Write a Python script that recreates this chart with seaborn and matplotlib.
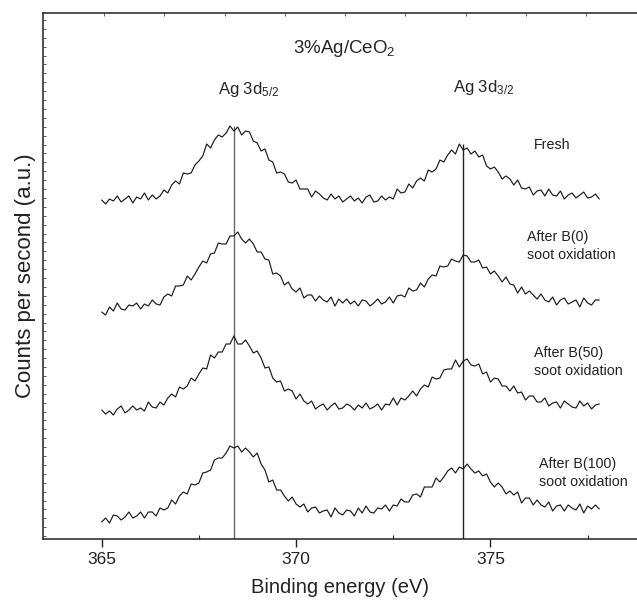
import numpy as np
import pandas as pd
import matplotlib
matplotlib.use("Agg")
import matplotlib.pyplot as plt
import seaborn as sns

# ---------------- data (counts, a.u., already vertically offset) ----------------
E_START, E_STEP, N_PTS = 365.0, 0.1, 129
energy = np.round(E_START + E_STEP * np.arange(N_PTS), 1)

samples = ["Fresh", "After B(0)\nsoot oxidation",
           "After B(50)\nsoot oxidation", "After B(100)\nsoot oxidation"]

fresh = [339, 335, 340, 338, 343, 337, 340, 343, 336, 342, 340, 346, 339, 344, 340, 343,
         349, 346, 354, 358, 355, 366, 365, 366, 374, 378, 383, 395, 391, 399, 404, 402,
         406, 413, 408, 412, 404, 408, 407, 398, 396, 388, 390, 379, 377, 366, 367, 365,
         357, 356, 359, 350, 350, 350, 342, 348, 345, 341, 339, 345, 340, 343, 337, 340,
         343, 338, 341, 336, 342, 344, 337, 338, 343, 339, 342, 340, 350, 346, 347, 355,
         351, 358, 361, 358, 369, 367, 370, 379, 377, 384, 389, 385, 395, 389, 391, 385,
         388, 382, 384, 373, 370, 372, 367, 360, 363, 360, 354, 359, 351, 350, 352, 344,
         348, 349, 343, 350, 344, 343, 348, 340, 344, 346, 341, 344, 347, 341, 342, 345,
         340]

b0 = [227, 224, 232, 228, 236, 230, 229, 234, 233, 236, 230, 235, 233, 239, 235, 234,
      242, 245, 243, 253, 253, 254, 263, 259, 265, 272, 278, 276, 285, 286, 296, 295,
      295, 303, 303, 307, 300, 296, 300, 295, 287, 287, 280, 279, 265, 266, 263, 254,
      257, 250, 247, 251, 241, 244, 244, 238, 243, 239, 237, 242, 233, 240, 236, 240,
      235, 238, 233, 239, 238, 233, 236, 240, 235, 237, 242, 236, 243, 244, 242, 251,
      248, 249, 256, 252, 260, 264, 263, 273, 272, 273, 280, 278, 277, 284, 283, 277,
      277, 279, 271, 272, 265, 268, 263, 257, 262, 255, 254, 246, 252, 245, 248, 244,
      240, 245, 239, 237, 242, 234, 239, 241, 235, 237, 239, 232, 241, 236, 234, 239,
      239]

b50 = [129, 125, 128, 124, 130, 133, 126, 129, 133, 129, 131, 128, 137, 132, 131, 137,
       134, 141, 145, 142, 152, 150, 153, 161, 158, 165, 171, 170, 184, 181, 187, 187,
       195, 195, 203, 195, 195, 199, 193, 186, 188, 181, 171, 172, 161, 157, 158, 148,
       150, 148, 140, 145, 138, 135, 138, 130, 133, 135, 129, 133, 136, 130, 131, 135,
       133, 129, 134, 131, 136, 130, 132, 135, 129, 135, 134, 141, 134, 141, 139, 143,
       148, 143, 150, 154, 152, 162, 160, 161, 169, 170, 170, 179, 172, 178, 180, 174,
       173, 175, 165, 167, 157, 161, 160, 153, 153, 148, 153, 146, 147, 139, 143, 143,
       137, 137, 141, 133, 136, 137, 131, 138, 135, 132, 131, 138, 133, 136, 130, 134,
       135]

b100 = [17, 21, 16, 24, 23, 19, 22, 27, 21, 23, 27, 21, 27, 27, 23, 31,
        29, 31, 39, 35, 43, 47, 45, 55, 54, 56, 66, 67, 69, 79, 81, 81,
        86, 93, 91, 93, 87, 91, 87, 82, 86, 75, 69, 57, 59, 49, 49, 43,
        38, 42, 35, 32, 35, 27, 31, 32, 26, 28, 29, 22, 31, 26, 24, 29,
        28, 23, 31, 26, 33, 27, 26, 31, 30, 34, 28, 34, 33, 40, 37, 37,
        44, 45, 42, 52, 52, 52, 61, 57, 62, 68, 71, 66, 72, 70, 75, 70,
        66, 68, 63, 65, 57, 52, 56, 52, 45, 48, 44, 47, 36, 41, 41, 34,
        39, 34, 32, 37, 28, 33, 34, 28, 34, 31, 29, 35, 26, 33, 30, 34,
        30]

series = [fresh, b0, b50, b100]
peak_labels = ["Ag 3d$_{5/2}$", "Ag 3d$_{3/2}$"]
peak_energy = [368.4, 374.3]
title_text = "3%Ag/CeO$_2$"

df = pd.concat(
    [pd.DataFrame({"energy": energy, "counts": vals, "sample": name})
     for name, vals in zip(samples, series)],
    ignore_index=True)

# ---------------- style ----------------
sns.set_style("ticks")
plt.rcParams["font.family"] = ["Liberation Sans", "DejaVu Sans"]
plt.rcParams["mathtext.fontset"] = "custom"
plt.rcParams["mathtext.rm"] = "Liberation Sans"
plt.rcParams["mathtext.it"] = "Liberation Sans:italic"
plt.rcParams["mathtext.bf"] = "Liberation Sans:bold"

W, H = 637, 600
fig = plt.figure(figsize=(W / 100, H / 100), dpi=100)
ax = fig.add_axes([43 / W, 61 / H, 1 - 43 / W, 526 / H])

sns.lineplot(data=df, x="energy", y="counts", hue="sample", hue_order=samples,
             palette=["#1a1a1a"] * 4, estimator=None, sort=False, legend=False,
             linewidth=0.85, ax=ax)

ax.set_xlim(363.49, 378.77)
ax.set_ylim(0, 526)

# vertical peak markers reaching the fresh spectrum maxima
arr_fresh = np.array(fresh)
for pe, col in zip(peak_energy, ["#666666", "#222222"]):
    m = np.abs(energy - pe) <= 0.3
    ax.vlines(pe, 0, arr_fresh[m].max(), color=col, lw=1.0, zorder=1)

# annotations
ax.text(369.92, 486, title_text, fontsize=13.5, ha="left", va="baseline")
ax.text(367.99, 445, peak_labels[0], fontsize=12, ha="left", va="baseline")
ax.text(374.04, 447, peak_labels[1], fontsize=12, ha="left", va="baseline")

label_pos = [(376.12, 394), (375.94, 293), (376.12, 177), (376.25, 66)]
for name, (lx, ly) in zip(samples, label_pos):
    ax.text(lx, ly, name, fontsize=10.3, ha="left", va="center", linespacing=1.3,
            color="#222222")

# axes, ticks, labels
ax.set_xticks([365, 370, 375])
ax.set_xticks([367.5, 372.5, 377.5], minor=True)
ax.tick_params(axis="x", which="major", direction="out", length=6, width=1,
               labelsize=12.5, pad=3, colors="#222222")
ax.tick_params(axis="x", which="minor", direction="in", length=3, width=0.8,
               colors="#222222")
ax.set_yticks(np.arange(519, 0, -8.9))
ax.tick_params(axis="y", which="major", direction="in", length=2.5, width=0.6,
               labelleft=False, colors="#444444")

top = ax.secondary_xaxis("top")
top.set_xticks(365.06 + 1.55 * np.arange(9))
top.tick_params(direction="in", length=2.5, width=0.6, labeltop=False, colors="#444444")
top.spines["top"].set_visible(False)

for side in ["left", "bottom", "top"]:
    ax.spines[side].set_linewidth(1.1)
    ax.spines[side].set_color("#222222")
ax.spines["right"].set_visible(False)
ax.spines["top"].set_visible(True)

ax.set_xlabel("Binding energy (eV)", fontsize=14.5, labelpad=8, color="#222222")
ax.set_ylabel("Counts per second (a.u.)", fontsize=16, labelpad=5, color="#222222")

fig.savefig("out.png", dpi=100)
